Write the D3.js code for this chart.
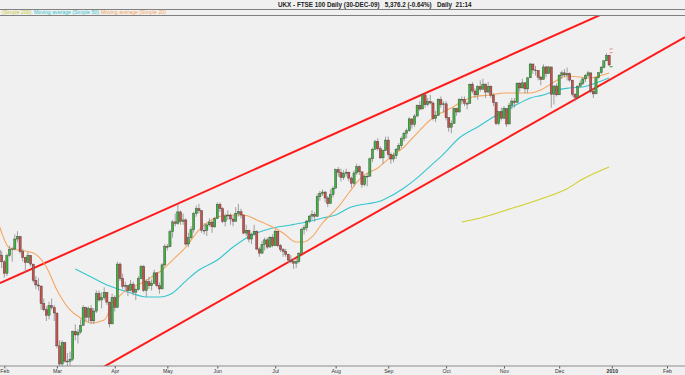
<!DOCTYPE html>
<html><head><meta charset="utf-8">
<script src="https://cdn.jsdelivr.net/npm/d3@7/dist/d3.min.js"></script>
<style>body{margin:0;background:#f0f0f0;}svg{display:block;font-family:"Liberation Sans",Arial,sans-serif;}</style>
</head><body><svg id="c" width="685" height="375"></svg>
<script>
// ---------- data ----------
const holidays = ["2009-04-10","2009-04-13","2009-05-04","2009-05-25","2009-08-31","2009-12-25","2009-12-28"];
const lastDataDate = "2009-12-30", futureStart = "2010-01-01";
const monthLabels = ["Feb","Mar","Apr","May","Jun","Jul","Aug","Sep","Oct","Nov","Dec","2010","Feb"];
const monthKeys = ["2009-02","2009-03","2009-04","2009-05","2009-06","2009-07","2009-08","2009-09","2009-10","2009-11","2009-12","2010-01","2010-02"];

// [open, high, low, close]
const jan09 = [[4220,4250,4170,4190],[4190,4215,4110,4149]];
const feb09 = [[4149,4160,4050,4077],[4077,4200,4060,4188],[4188,4250,4180,4228],[4228,4240,4150,4229],[4229,4320,4220,4291],
 [4291,4340,4270,4307],[4307,4310,4200,4213],[4213,4230,4150,4176],[4176,4180,4080,4144],[4144,4210,4140,4189],
 [4189,4190,4120,4135],[4135,4135,4020,4034],[4034,4060,3980,4005],[4005,4050,3970,3998],[3998,4000,3850,3889],
 [3889,3920,3840,3850],[3850,3870,3780,3815],[3815,3900,3790,3875],[3875,3920,3850,3864],[3864,3880,3780,3830]];
const mar09 = [[3830,3830,3610,3625],[3625,3660,3480,3512],[3512,3660,3500,3645],[3645,3650,3520,3530],[3530,3580,3480,3529],
 [3529,3590,3500,3542],[3542,3720,3530,3715],[3715,3760,3660,3693],[3693,3730,3640,3711],[3711,3790,3700,3753],
 [3753,3880,3750,3863],[3863,3870,3780,3804],[3804,3870,3770,3857],[3857,3880,3760,3781],[3781,3860,3760,3842],
 [3842,3970,3830,3952],[3952,3970,3900,3911],[3911,3960,3860,3925],[3925,3990,3910,3958],[3958,3960,3880,3898],
 [3898,3900,3740,3762],[3762,3950,3760,3926]];
const apr09 = [[3926,3940,3840,3865],[3865,4150,3860,4135],[4135,4145,4030,4045],[4045,4075,3980,3995],[3995,4025,3970,4000],
 [4000,4005,3935,3970],[3970,4035,3965,4010],[4010,4025,3940,3960],[3960,3990,3910,3975],[3975,4060,3970,4045],
 [4045,4130,4040,4120],[4120,4130,3960,3970],[3970,4040,3930,4025],[4025,4055,3980,4000],[4000,4040,3970,4015],
 [4015,4100,4010,4080],[4080,4085,3990,4000],[4000,4020,3950,3980],[3980,4140,3980,4130],[4130,4260,4120,4245]];
const may09 = [[4245,4260,4220,4243],[4243,4350,4240,4337],[4337,4410,4300,4398],[4398,4450,4370,4389],[4389,4510,4380,4460],
 [4460,4470,4380,4401],[4401,4450,4380,4410],[4410,4420,4250,4260],[4260,4330,4240,4300],[4300,4370,4290,4349],
 [4349,4460,4330,4449],[4449,4500,4430,4480],[4480,4510,4450,4468],[4468,4470,4330,4346],[4346,4390,4320,4345],
 [4345,4390,4310,4379],[4379,4420,4370,4397],[4397,4410,4330,4367],[4367,4430,4360,4418]];
const jun09 = [[4418,4520,4418,4507],[4507,4520,4460,4480],[4480,4490,4390,4400],[4400,4450,4370,4435],[4435,4470,4410,4440],
 [4440,4450,4380,4416],[4416,4440,4370,4402],[4402,4490,4400,4450],[4450,4510,4430,4461],[4461,4480,4420,4441],
 [4441,4441,4320,4328],[4328,4380,4310,4345],[4345,4350,4270,4291],[4291,4330,4260,4322],[4322,4380,4310,4339],
 [4339,4345,4220,4229],[4229,4240,4180,4203],[4203,4280,4200,4257],[4257,4300,4220,4286],[4286,4300,4230,4241],
 [4241,4310,4240,4302],[4302,4320,4240,4249]];
const jul09 = [[4249,4350,4249,4340],[4340,4340,4240,4250],[4250,4260,4210,4226],[4226,4235,4180,4215],[4215,4230,4180,4195],
 [4195,4200,4140,4160],[4160,4190,4140,4150],[4150,4170,4105,4140],[4140,4170,4110,4150],[4150,4210,4140,4200],
 [4200,4360,4200,4352],[4352,4380,4320,4362],[4362,4410,4340,4403],[4403,4440,4390,4434],[4434,4470,4410,4445],
 [4445,4460,4400,4432],[4432,4570,4430,4555],[4555,4590,4530,4575],[4575,4600,4560,4584],[4584,4590,4520,4547],
 [4547,4560,4490,4512],[4512,4600,4510,4568],[4568,4620,4550,4608]];
const aug09 = [[4608,4730,4608,4724],[4724,4740,4680,4707],[4707,4730,4650,4674],[4674,4720,4660,4700],[4700,4730,4680,4708],
 [4708,4710,4650,4671],[4671,4680,4610,4638],[4638,4720,4620,4703],[4703,4760,4690,4742],[4742,4750,4690,4710],
 [4710,4710,4610,4630],[4630,4690,4620,4682],[4682,4700,4620,4683],[4683,4800,4680,4791],[4791,4860,4770,4851],
 [4851,4910,4850,4898],[4898,4920,4840,4854],[4854,4870,4790,4797],[4797,4850,4760,4843],[4843,4930,4840,4908]];
const sep09 = [[4908,4930,4800,4819],[4819,4830,4760,4790],[4790,4830,4770,4810],[4810,4860,4790,4851],[4851,4890,4840,4873],
 [4873,4930,4860,4916],[4916,4960,4900,4951],[4951,4980,4920,4966],[4966,5050,4960,5040],[5040,5040,4980,5006],
 [5006,5070,4990,5058],[5058,5130,5050,5124],[5124,5150,5090,5102],[5102,5200,5100,5190],[5190,5190,5110,5129],
 [5129,5170,5120,5149],[5149,5190,5130,5139],[5139,5150,5030,5042],[5042,5090,5020,5061],[5061,5170,5060,5161],
 [5161,5180,5110,5129],[5129,5150,5080,5134]];
const oct09 = [[5134,5150,5030,5047],[5047,5050,4960,4988],[4988,5030,4950,5011],[5011,5110,5010,5105],[5105,5110,5060,5083],
 [5083,5170,5080,5160],[5160,5180,5130,5162],[5162,5180,5120,5137],[5137,5150,5100,5136],[5136,5260,5136,5256],
 [5256,5270,5200,5214],[5214,5230,5170,5190],[5190,5250,5160,5242],[5242,5280,5210,5225],[5225,5290,5220,5257],
 [5257,5260,5170,5207],[5207,5270,5200,5243],[5243,5250,5170,5188],[5188,5200,5120,5142],[5142,5142,5000,5011],
 [5011,5090,5000,5085],[5085,5110,5030,5044]];
const nov09 = [[5044,5120,5040,5105],[5105,5105,4990,5008],[5008,5140,5008,5125],[5125,5170,5100,5151],[5151,5170,5110,5142],
 [5142,5270,5142,5262],[5262,5270,5210,5233],[5233,5290,5230,5265],[5265,5270,5200,5227],[5227,5300,5200,5296],
 [5296,5390,5296,5382],[5382,5385,5320,5345],[5345,5370,5310,5342],[5342,5345,5280,5300],[5300,5310,5250,5286],
 [5286,5380,5286,5364],[5364,5370,5300,5323],[5323,5370,5320,5364],[5364,5364,5110,5194],[5194,5250,5130,5245],
 [5245,5260,5180,5190]];
const dec09 = [[5190,5320,5190,5312],[5312,5340,5290,5327],[5327,5350,5300,5314],[5314,5360,5280,5322],[5322,5330,5270,5282],
 [5282,5282,5180,5194],[5194,5200,5150,5175],[5175,5250,5170,5244],[5244,5280,5240,5261],[5261,5300,5250,5289],
 [5289,5320,5270,5311],[5311,5340,5300,5327],[5327,5327,5200,5211],[5211,5230,5170,5196],[5196,5300,5196,5297],
 [5297,5330,5290,5328],[5328,5370,5320,5361],[5361,5405,5355,5402],[5402,5450,5400,5437],[5437,5440,5370,5376]];

const ma20 = [["2009-01-29",4380],["2009-02-04",4235],["2009-02-17",4204],["2009-02-24",4117],["2009-03-02",3973],["2009-03-09",3849],
 ["2009-03-13",3799],["2009-03-19",3768],["2009-03-26",3786],["2009-03-31",3880],["2009-04-06",3955],["2009-04-14",3992],
 ["2009-04-20",4023],["2009-04-23",4054],["2009-04-29",4098],["2009-05-06",4160],["2009-05-13",4241],["2009-05-20",4347],
 ["2009-05-26",4391],["2009-06-01",4428],["2009-06-08",4441],["2009-06-15",4441],["2009-06-22",4410],["2009-06-30",4366],
 ["2009-07-06",4329],["2009-07-13",4273],["2009-07-16",4273],["2009-07-21",4304],["2009-07-27",4391],["2009-08-04",4491],
 ["2009-08-10",4578],["2009-08-17",4678],["2009-08-25",4734],["2009-09-02",4803],["2009-09-09",4865],["2009-09-16",4952],
 ["2009-09-23",5033],["2009-09-29",5077],["2009-10-05",5108],["2009-10-08",5139],["2009-10-15",5177],["2009-10-26",5189],
 ["2009-11-02",5201],["2009-11-09",5201],["2009-11-16",5201],["2009-11-20",5220],["2009-11-27",5270],["2009-12-04",5307],
 ["2009-12-11",5301],["2009-12-17",5295],["2009-12-22",5307],["2009-12-30",5326]];
const ma50 = [["2009-03-11",4104],["2009-03-19",4054],["2009-03-27",4005],["2009-04-08",3961],["2009-04-21",3930],["2009-04-28",3930],
 ["2009-05-06",3955],["2009-05-13",4029],["2009-05-20",4098],["2009-06-01",4160],["2009-06-09",4241],["2009-06-16",4298],
 ["2009-06-23",4335],["2009-06-30",4360],["2009-07-09",4379],["2009-07-17",4397],["2009-07-27",4422],["2009-08-03",4441],
 ["2009-08-10",4485],["2009-08-27",4534],["2009-09-09",4609],["2009-09-16",4672],["2009-09-23",4746],["2009-09-30",4821],
 ["2009-10-08",4921],["2009-10-19",4990],["2009-10-27",5052],["2009-11-03",5095],["2009-11-10",5139],["2009-11-16",5170],
 ["2009-11-23",5189],["2009-11-30",5220],["2009-12-07",5233],["2009-12-14",5239],["2009-12-21",5264],["2009-12-30",5295]];
const ma200 = [["2009-10-09",4397],["2009-10-20",4422],["2009-11-03",4472],["2009-11-20",4541],["2009-12-04",4605],
 ["2009-12-14",4665],["2009-12-30",4740]];

const upperTrend = [["2009-01-30",4021],["2009-12-21",5676]];
const lowerTrend = [["2009-03-26",3496],["2009-12-30",5282]];
const lastMarks = [[5476,"#f08a8a"],[5453,"#f08a8a"],[5365,"#2e9e2e"]];

const titleText = "UKX - FTSE 100 Daily (30-DEC-09)   5,376.2 (-0.64%)   Daily  21:14";
const legendItems = [["(Simple 200)","#c8c832"],["Moving average (Simple 50)","#2ec4cc"],["Moving average (Simple 20)","#f5a35a"]];

(function(){
// ---------- build ----------
const fmt = d3.timeFormat("%Y-%m-%d");
const slots = d3.timeDay.range(new Date(2009,0,29), new Date(2010,1,15)).filter(d=>{
  const w=d.getDay(); if(w===0||w===6) return false;
  const s=fmt(d); if(holidays.includes(s)) return false;
  if(s>lastDataDate && s<futureStart) return false; return true;
}).map(fmt);
const idx = new Map(slots.map((s,i)=>[s,i]));
const base = idx.get("2009-02-02");
const candles = [].concat(jan09,feb09,mar09,apr09,may09,jun09,jul09,aug09,sep09,oct09,nov09,dec09)
  .map((r,i)=>({date:slots[i],o:r[0],h:r[1],l:r[2],c:r[3]}));

const W=685,H=375, plotTop=16, plotBottom=366;
const x = d3.scaleLinear().domain([0,252]).range([4.3,667]);
const X = s => x(idx.get(s)-base);
const y = d3.scaleLinear().domain([3512,5376]).range([364,65]);

const svg = d3.select("#c");
svg.append("rect").attr("width",W).attr("height",H).attr("fill","#f0f0f0");
svg.append("defs").append("clipPath").attr("id","plot").append("rect")
  .attr("x",0).attr("y",plotTop).attr("width",W).attr("height",plotBottom-plotTop);

// header
svg.append("text").attr("x",278).attr("y",7).attr("font-size",6.3).attr("font-weight","bold")
  .attr("fill","#222").attr("xml:space","preserve").text(titleText);
svg.append("line").attr("x1",0).attr("x2",W).attr("y1",9.5).attr("y2",9.5).attr("stroke","#808080").attr("stroke-width",1);
svg.append("line").attr("x1",0).attr("x2",W).attr("y1",15.5).attr("y2",15.5).attr("stroke","#808080").attr("stroke-width",1);
const legX=[2,34,101];
legendItems.forEach((d,i)=>{
  svg.append("text").attr("x",legX[i]).attr("y",14).attr("font-size",5.2).attr("fill",d[1]).text(d[0]);
});

const g = svg.append("g").attr("clip-path","url(#plot)");

function trend(pts){
  const x1=X(pts[0][0]), y1=y(pts[0][1]), x2=X(pts[1][0]), y2=y(pts[1][1]);
  const m=(y2-y1)/(x2-x1);
  g.append("line").attr("x1",0).attr("y1",y1+m*(0-x1)).attr("x2",W).attr("y2",y1+m*(W-x1))
   .attr("stroke","#ff1a1a").attr("stroke-width",2);
}
trend(upperTrend); trend(lowerTrend);

const line = d3.line().x(d=>X(d[0])).y(d=>y(d[1])).curve(d3.curveMonotoneX);
g.append("path").datum(ma200).attr("d",line).attr("fill","none").attr("stroke","#d2cf2a").attr("stroke-width",1.1);
g.append("path").datum(ma50).attr("d",line).attr("fill","none").attr("stroke","#34c6cf").attr("stroke-width",1.1);
g.append("path").datum(ma20).attr("d",line).attr("fill","none").attr("stroke","#f6a660").attr("stroke-width",1.1);

const cg = g.append("g");
cg.selectAll("line.w").data(candles).join("line").attr("class","w")
  .attr("x1",d=>X(d.date)).attr("x2",d=>X(d.date)).attr("y1",d=>y(d.h)).attr("y2",d=>y(d.l))
  .attr("stroke","#8a8a8a").attr("stroke-width",0.8);
cg.selectAll("rect.b").data(candles).join("rect").attr("class","b")
  .attr("x",d=>X(d.date)-1.1).attr("width",2.2)
  .attr("y",d=>y(Math.max(d.o,d.c))).attr("height",d=>Math.max(0.8,Math.abs(y(d.o)-y(d.c))))
  .attr("fill",d=>d.c>=d.o?"#3fb33f":"#c9504a").attr("stroke","#3a3a3a").attr("stroke-width",0.4);

const lastX = X(lastDataDate);
lastMarks.forEach(m=>{
  g.append("line").attr("x1",lastX+0.5).attr("x2",lastX+3.5).attr("y1",y(m[0])).attr("y2",y(m[0]))
   .attr("stroke",m[1]).attr("stroke-width",1);
});

const tickIdx = monthKeys.map(k=>idx.get(slots.find(s=>s.startsWith(k)))-base);
const axis = d3.axisBottom(x).tickValues(tickIdx).tickFormat((d,i)=>monthLabels[i]).tickSize(2.5).tickPadding(1);
const ax = svg.append("g").attr("transform",`translate(0,${plotBottom})`).call(axis);
ax.select(".domain").remove();
ax.selectAll(".tick line").attr("stroke","#555");
ax.selectAll(".tick text").attr("font-size",5.2).attr("fill","#333").attr("font-family","Liberation Sans, Arial, sans-serif")
  .attr("font-weight",(d,i)=>monthLabels[i]==="2010"?"bold":"normal");
svg.append("line").attr("x1",0).attr("x2",W).attr("y1",plotBottom).attr("y2",plotBottom).attr("stroke","#8c8c8c").attr("stroke-width",1.2);
})();
</script></body></html>
